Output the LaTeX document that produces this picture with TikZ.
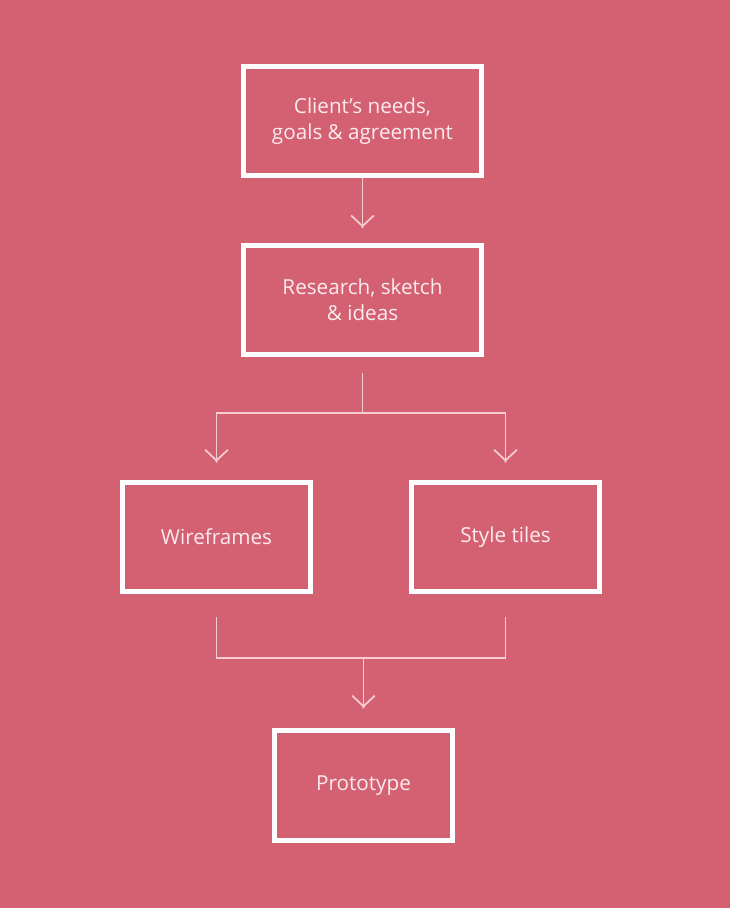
\documentclass[tikz,border=0pt]{standalone}
\usepackage{fontspec}
\setmainfont{Open Sans}
\usetikzlibrary{arrows.meta,positioning}
\definecolor{rosebg}{HTML}{D36172}
\definecolor{paletxt}{HTML}{FCEBEE}
\definecolor{linepink}{HTML}{F7CDD4}
\tikzset{
  stage/.style={draw=white, line width=3.7pt, text=paletxt, align=center, inner sep=0pt,
    minimum height=82pt, font=\fontsize{15.5}{19.5}\selectfont},
  widestage/.style={stage, minimum width=179pt},
  midstage/.style={stage, minimum width=141pt},
  smallstage/.style={stage, minimum width=134pt},
  joinline/.style={draw=linepink, line width=1.3pt},
  conn/.style={joinline, -{Straight Barb[length=8pt,width=17pt,sep=0pt]Butt Cap}},
}

\begin{document}
\begin{tikzpicture}[x=0.75pt,y=-0.75pt]
  \fill[rosebg] (0,0) rectangle (730,908);
  \useasboundingbox (0,0) rectangle (730,908);

  \node[widestage] (needs) at (362.5,121) {Client’s needs,\\goals \& agreement};
  \node[widestage] (research) at (362.5,300) {Research, sketch\\\& ideas};
  \node[midstage] (wire) at (216.5,537) {Wireframes};
  \node[midstage] (tiles) at (505.5,537) {Style tiles};
  \node[smallstage] (proto) at (363.5,785.5) {Prototype};

  % top
  \draw[conn, shorten >=11pt] (needs) -- (research);
  % split
  \draw[conn, shorten <=12pt, shorten >=13pt] (research.south) -- ++(0,56) -| (wire.north);
  \draw[conn, shorten <=12pt, shorten >=13pt] (research.south) -- ++(0,56) -| (tiles.north);
  % join
  \draw[joinline, shorten <=17pt, shorten >=17pt] (wire.south) -- ++(0,64) -| (tiles.south);
  \draw[conn, shorten <=48pt, shorten >=15pt] (wire.south -| proto.north) -- (proto.north);
\end{tikzpicture}
\end{document}
